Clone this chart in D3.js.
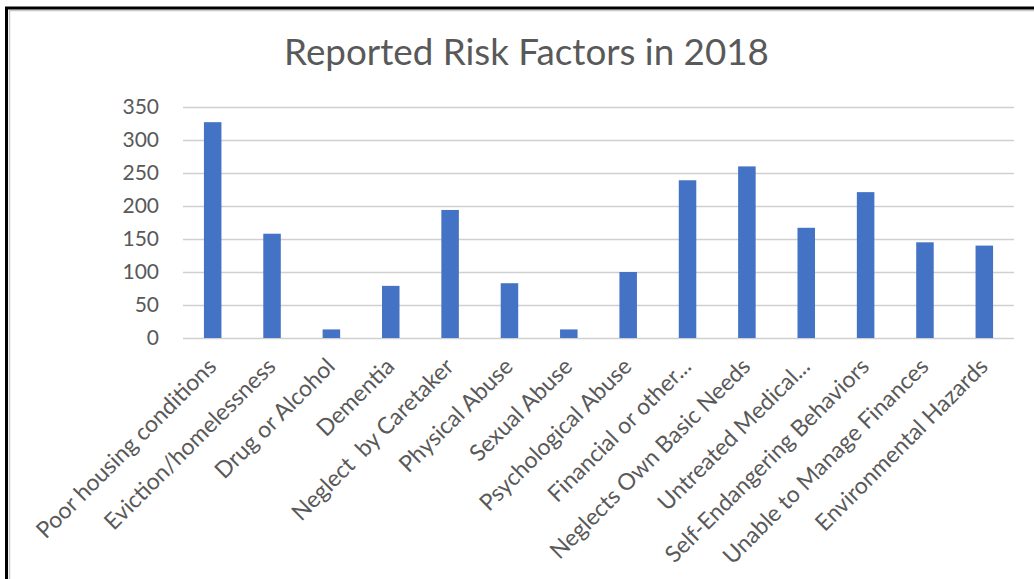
<!DOCTYPE html>
<html>
<head>
<meta charset="utf-8">
<script src="https://cdn.jsdelivr.net/npm/d3@7"></script>
<style>
  html, body { margin: 0; padding: 0; background: #fff; }
  svg { display: block; }
  text { font-family: Lato, "Open Sans", sans-serif; }
</style>
</head>
<body>
<svg id="chart" width="1034" height="579"></svg>
<script>
const title = "Reported Risk Factors in 2018";
const categories = [
  "Poor housing conditions",
  "Eviction/homelessness",
  "Drug or Alcohol",
  "Dementia",
  "Neglect  by Caretaker",
  "Physical Abuse",
  "Sexual Abuse",
  "Psychological Abuse",
  "Financial or other...",
  "Neglects Own Basic Needs",
  "Untreated Medical...",
  "Self-Endangering Behaviors",
  "Unable to Manage Finances",
  "Environmental Hazards"
];
const values = [327, 158, 13, 79, 194, 83, 13, 100, 239, 260, 167, 221, 145, 140];
const yTicks = [0, 50, 100, 150, 200, 250, 300, 350];

const svg = d3.select("#chart");
const W = 1034, H = 579;
const plot = { left: 183, right: 1014, top: 107, bottom: 338 };

// frame
svg.append("rect").attr("x", 0).attr("y", 0).attr("width", W).attr("height", H).attr("fill", "#fff");
svg.append("path")
  .attr("d", `M9.5,${H + 5} L9.5,10.5 L${W + 5},10.5`)
  .attr("fill", "none").attr("stroke", "#c8c8c8").attr("stroke-width", 1.5);
svg.append("path")
  .attr("d", `M6.5,${H + 5} L6.5,8 L${W + 5},8`)
  .attr("fill", "none").attr("stroke", "#000").attr("stroke-width", 3);

const x = d3.scaleBand().domain(categories).range([plot.left, plot.right]).padding(0);
const y = d3.scaleLinear().domain([0, 350]).range([plot.bottom, plot.top]);

// gridlines
const grid = d3.axisLeft(y).tickValues(yTicks).tickSize(-(plot.right - plot.left)).tickFormat("");
const gg = svg.append("g").attr("transform", `translate(${plot.left},0)`).call(grid);
gg.select(".domain").remove();
gg.selectAll(".tick line").attr("stroke", "#d0d0d0").attr("stroke-width", 1.3);

// y tick labels
const ya = d3.axisLeft(y).tickValues(yTicks).tickSize(0).tickPadding(24);
const yg = svg.append("g").attr("transform", `translate(${plot.left},0)`).call(ya);
yg.select(".domain").remove();
yg.selectAll("text")
  .attr("fill", "#595959")
  .style("font-family", "Lato, 'Open Sans', sans-serif")
  .style("font-size", "21px");

// bars
const bw = x.bandwidth() * 0.295;
svg.append("g").selectAll("rect").data(values).join("rect")
  .attr("x", (d, i) => x(categories[i]) + x.bandwidth() / 2 - bw / 2)
  .attr("y", d => y(d))
  .attr("width", bw)
  .attr("height", d => y(0) - y(d))
  .attr("fill", "#4472C4");

// x axis labels (rotated)
const xa = d3.axisBottom(x).tickSize(0).tickPadding(0);
const xg = svg.append("g").attr("transform", `translate(0,${plot.bottom})`).call(xa);
xg.select(".domain").remove();
xg.selectAll(".tick text")
  .attr("fill", "#595959")
  .style("font-family", "Lato, 'Open Sans', sans-serif")
  .style("font-size", "23px")
  .attr("text-anchor", "end")
  .attr("dy", null)
  .attr("y", null)
  .attr("transform", "translate(5,30) rotate(-45)")
  .style("white-space", "pre")
  .attr("xml:space", "preserve");

// title
const t = svg.append("text")
  .attr("x", 526.5).attr("y", 65)
  .attr("text-anchor", "middle")
  .attr("fill", "#595959")
  .style("font-size", "32px")
  .text(title);
const tw = t.node().getComputedTextLength();
t.style("font-size", (32 * 485 / tw).toFixed(2) + "px");
</script>
</body>
</html>
